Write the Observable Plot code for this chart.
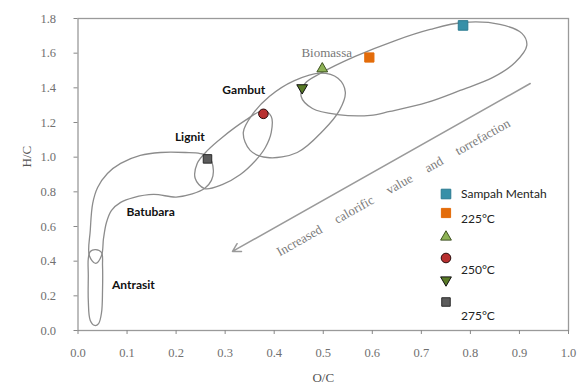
<!DOCTYPE html>
<html><head><meta charset="utf-8">
<script src="https://cdn.jsdelivr.net/npm/d3@7"></script>
<script src="https://cdn.jsdelivr.net/npm/@observablehq/plot@0.6"></script>
<style>
body{margin:0;background:#fff;}
#wrap{position:relative;width:586px;height:388px;overflow:hidden;background:#fff;}
.leg{position:absolute;font-family:Lato,"Open Sans",sans-serif;font-size:12px;color:#222;line-height:1;white-space:nowrap;transform:translateY(-50%);}
.legsym{position:absolute;transform:translate(-50%,-50%);}
</style></head><body><div id="wrap"></div>
<script>
// ---------- data ----------
const xTicks = [0, 0.1, 0.2, 0.3, 0.4, 0.5, 0.6, 0.7, 0.8, 0.9, 1.0];
const yTicks = [0, 0.2, 0.4, 0.6, 0.8, 1.0, 1.2, 1.4, 1.6, 1.8];

// samples (O/C, H/C)
const sampleLabels = ["Sampah Mentah", "225°C", "", "250°C", "", "275°C"];
const sampleOC = [0.785, 0.594, 0.498, 0.378, 0.457, 0.264];
const sampleHC = [1.760, 1.575, 1.510, 1.250, 1.400, 0.990];

// region outlines (O/C and H/C)
const biomassaOC = [0.494,0.565,0.647,0.718,0.785,0.860,0.905,0.915,0.891,0.846,0.779,0.712,0.636,0.596,0.529,0.478,0.455,0.463];
const biomassaHC = [1.483,1.581,1.673,1.737,1.777,1.766,1.714,1.645,1.546,1.460,1.385,1.316,1.264,1.241,1.246,1.281,1.350,1.425];
const gambutOC = [0.357,0.337,0.351,0.386,0.447,0.500,0.533,0.545,0.530,0.495,0.440,0.390];
const gambutHC = [1.252,1.143,1.039,0.998,1.027,1.154,1.270,1.375,1.455,1.485,1.440,1.350];
const lignitOC = [0.243,0.264,0.294,0.341,0.378,0.394,0.394,0.382,0.362,0.331,0.294,0.258,0.239];
const lignitHC = [0.964,1.039,1.114,1.212,1.269,1.235,1.143,1.056,0.981,0.900,0.842,0.819,0.877];
const batubaraOC = [0.276,0.268,0.249,0.219,0.168,0.127,0.087,0.060,0.040,0.030,0.025,0.023,0.036,0.048,0.052,0.058,0.068,0.087,0.113,0.154,0.200,0.233,0.258,0.272];
const batubaraHC = [0.923,0.998,1.021,1.027,1.027,1.010,0.964,0.906,0.825,0.733,0.577,0.433,0.387,0.433,0.531,0.623,0.692,0.739,0.767,0.785,0.770,0.788,0.819,0.866];
const antrasitOC = [0.036,0.048,0.050,0.050,0.048,0.042,0.034,0.025,0.021,0.021,0.021,0.025];
const antrasitHC = [0.467,0.450,0.375,0.231,0.104,0.040,0.029,0.058,0.173,0.317,0.415,0.456];

// region labels
const regionNames = ["Biomassa", "Gambut", "Lignit", "Batubara", "Antrasit"];
const regionLabelOC = [0.507, 0.338, 0.228, 0.148, 0.113];
const regionLabelHC = [1.604, 1.385, 1.114, 0.681, 0.260];

// arrow
const arrowOC = [0.922, 0.315];
const arrowHC = [1.425, 0.456];
const arrowText = "Increased calorific value and torrefaction";
const arrowTextOC = [0.643];
const arrowTextHC = [0.825];

// ---------- build ----------
const outlines = [
  ["Biomassa", biomassaOC, biomassaHC],
  ["Gambut", gambutOC, gambutHC],
  ["Lignit", lignitOC, lignitHC],
  ["Batubara", batubaraOC, batubaraHC],
  ["Antrasit", antrasitOC, antrasitHC]
];
const outlineRows = outlines.flatMap(([name, xs, ys]) => xs.map((x, i) => ({region: name, x, y: ys[i]})));

const markerStyles = [
  {symbol: "square", fill: "#3790a8", stroke: "#2a7a90", r: 5.4, rotate: 0},
  {symbol: "square", fill: "#e36c0a", stroke: "#e36c0a", r: 5.2, rotate: 0},
  {symbol: "triangle", fill: "#8db255", stroke: "#3f5222", r: 4.0, rotate: 0},
  {symbol: "circle", fill: "#b83030", stroke: "#2a0c0c", r: 4.8, rotate: 0},
  {symbol: "triangle", fill: "#587a26", stroke: "#111", r: 4.0, rotate: 180},
  {symbol: "square", fill: "#5c5c5c", stroke: "#2b2b2b", r: 4.8, rotate: 0}
];

const idx = sampleOC.map((_, i) => i);

const plot = Plot.plot({
  width: 586, height: 388,
  marginLeft: 77.5, marginRight: 18, marginTop: 18, marginBottom: 58,
  style: {fontFamily: "'Liberation Serif', serif", fontSize: "12.5px", color: "#666", background: "transparent"},
  x: {domain: [0, 1]},
  y: {domain: [0, 1.8]},
  marks: [
    Plot.frame({stroke: "#9a9a9a", strokeWidth: 1.3}),
    Plot.axisX({ticks: xTicks, tickFormat: d3.format(".1f"), tickSize: 4, tickPadding: 14, label: null, stroke: "#888", fill: "#707070"}),
    Plot.axisY({ticks: yTicks, tickFormat: d3.format(".1f"), tickSize: 4, tickPadding: 18, label: null, stroke: "#888", fill: "#707070"}),
    Plot.text(["H/C"], {frameAnchor: "left", dx: -51, dy: -7, rotate: -90, fontSize: 13, fill: "#555", fontFamily: "'Liberation Serif', serif"}),
    Plot.text(["O/C"], {frameAnchor: "bottom", dy: 51, fontSize: 13, fill: "#555", fontFamily: "'Liberation Serif', serif"}),
    Plot.line(outlineRows, {x: "x", y: "y", z: "region", curve: "catmull-rom-closed", stroke: "#8c8c8c", strokeWidth: 1.3}),
    Plot.arrow([0], {x1: () => arrowOC[0], y1: () => arrowHC[0], x2: () => arrowOC[1], y2: () => arrowHC[1], stroke: "#9a9a9a", strokeWidth: 1.5, headLength: 9, inset: 0}),
    Plot.text([arrowText], {x: () => arrowTextOC[0], y: () => arrowTextHC[0], rotate: -29.5, fontSize: 13, fill: "#7a7a7a", fontFamily: "'Liberation Serif', serif"}),
    Plot.text(regionNames.slice(0, 1), {x: (d, i) => regionLabelOC[i], y: (d, i) => regionLabelHC[i], fontSize: 13, fill: "#777", fontFamily: "'Liberation Serif', serif"}),
    Plot.text(regionNames.slice(1), {x: (d, i) => regionLabelOC[i + 1], y: (d, i) => regionLabelHC[i + 1], fontSize: 12, fontWeight: "bold", fill: "#111", fontFamily: "Lato, 'Open Sans', sans-serif"}),
    ...idx.map(i => Plot.dot([i], {x: j => sampleOC[j], y: j => sampleHC[j], ...markerStyles[i], strokeWidth: 1}))
  ]
});

d3.select(plot).selectAll("text").filter(function() { return this.textContent === arrowText; }).style("word-spacing", "13px");

const wrap = document.getElementById("wrap");
wrap.appendChild(plot);

// ---------- legend (inside plot, as in reference) ----------
const legMarkerY = [194, 213, 237, 258, 280, 302];
const legLabelY = [194, 219, null, 270, null, 316];
markerStyles.forEach((m, i) => {
  const s = 16;
  const svg = d3.create("svg").attr("width", s).attr("height", s).attr("class", "legsym")
    .style("left", "446px").style("top", legMarkerY[i] + "px");
  const sym = {square: d3.symbolSquare, triangle: d3.symbolTriangle, circle: d3.symbolCircle}[m.symbol];
  svg.append("path")
    .attr("d", d3.symbol(sym, Math.PI * m.r * m.r)())
    .attr("transform", `translate(${s/2},${s/2}) rotate(${m.rotate})`)
    .attr("fill", m.fill).attr("stroke", m.stroke).attr("stroke-width", 1);
  wrap.appendChild(svg.node());
  if (sampleLabels[i]) {
    const d = document.createElement("div");
    d.className = "leg";
    d.textContent = sampleLabels[i];
    d.style.left = "461px";
    d.style.top = legLabelY[i] + "px";
    wrap.appendChild(d);
  }
});
</script>
</body></html>
